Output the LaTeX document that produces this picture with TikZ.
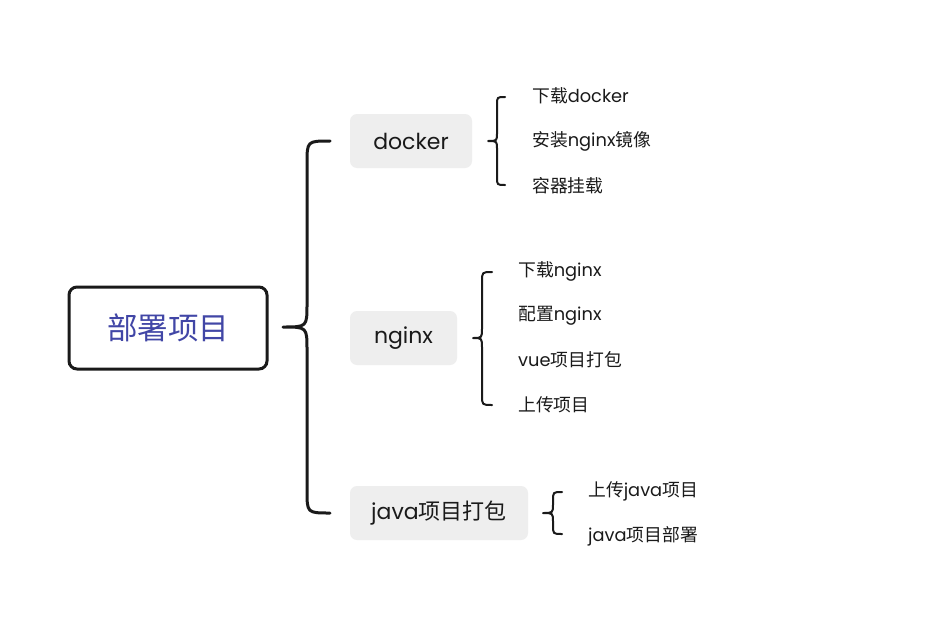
\documentclass[tikz,border=0pt]{standalone}
\usepackage{fontspec}
\setmainfont{Poppins}
\newfontfamily\cjk{Noto Sans CJK SC}
\definecolor{rootblue}{HTML}{4146A6}
\definecolor{boxgray}{HTML}{EEEEEE}
\definecolor{ink}{HTML}{1A1A1A}
\newcommand\mybrace[6]{% endx, vertx, tipx, topy, tipy, boty
  \pgfmathsetmacro\rr{(#1)-(#2)}
  \draw[bracestyle] (#1,#4) .. controls (#2,#4) .. (#2,#4+\rr) -- (#2,#5-\rr)
    .. controls (#2,#5) .. (#3,#5) .. controls (#2,#5) .. (#2,#5+\rr)
    -- (#2,#6-\rr) .. controls (#2,#6) .. (#1,#6);}
\begin{document}
\begin{tikzpicture}[x=1pt,y=-1pt,
  bracestyle/.style={draw=ink,line width=2pt,line cap=round,line join=round},
  rootbox/.style={draw=ink,line width=3pt,rounded corners=8pt,minimum width=198pt,minimum height=82pt,text=rootblue,font=\cjk\fontsize{30.5}{34}\selectfont},
  midbox/.style={fill=boxgray,rounded corners=7pt,minimum height=54pt,text=ink,font=\fontsize{22}{26}\selectfont},
  leaf/.style={anchor=west,inner sep=0pt,text=ink,font=\fontsize{17.8}{21}\selectfont}]
\useasboundingbox (0,0) rectangle (926,621);
\fill[white] (0,0) rectangle (926,621);
\node[rootbox] (root) at (168,328) {部署项目};
\node[midbox,minimum width=122pt] (docker) at (411,141) {docker};
\node[midbox,minimum width=107pt] (nginx) at (403.5,338) {nginx};
\node[midbox,minimum width=178pt] (java) at (439,513) {java{\cjk 项目打包}};
% big brace
\draw[bracestyle,line width=3pt] (330,141) .. controls (307,141) .. (307,164) -- (307,304)
  .. controls (307,327) .. (283,327) .. controls (307,327) .. (307,350)
  -- (307,490) .. controls (307,513) .. (330,513);
\mybrace{505}{497}{488}{97}{141}{185}
\mybrace{492}{482}{473}{272}{338}{405}
\mybrace{562}{553}{543}{492}{513}{534}
\node[leaf] (d1) at (532,96) {{\cjk 下载}docker};
\node[leaf] (d2) at (532,141) {{\cjk 安装}nginx{\cjk 镜像}};
\node[leaf] (d3) at (532,186) {{\cjk 容器挂载}};
\node[leaf] (n1) at (518,271) {{\cjk 下载}nginx};
\node[leaf] (n2) at (518,316) {{\cjk 配置}nginx};
\node[leaf] (n3) at (518,360) {vue{\cjk 项目打包}};
\node[leaf] (n4) at (518,405) {{\cjk 上传项目}};
\node[leaf] (j1) at (588,491) {{\cjk 上传}java{\cjk 项目}};
\node[leaf] (j2) at (588,536) {java{\cjk 项目部署}};
\end{tikzpicture}
\end{document}
